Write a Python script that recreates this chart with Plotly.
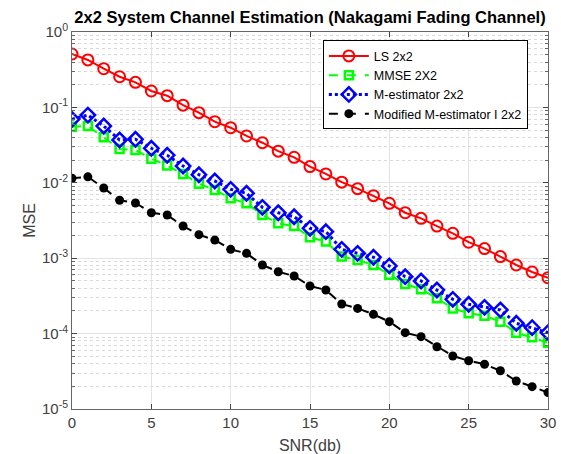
import plotly.graph_objects as go

snr = list(range(0, 31))

ls_2x2 = [0.511, 0.426, 0.326, 0.255, 0.215, 0.165, 0.143, 0.107, 0.0851, 0.0646,
          0.0538, 0.0418, 0.034, 0.0263, 0.0218, 0.0164, 0.0131, 0.0102, 0.00836, 0.00675,
          0.00535, 0.00401, 0.00338, 0.00267, 0.00214, 0.00163, 0.00134, 0.00105, 0.000813,
          0.000656, 0.000551]
mmse_2x2 = [0.0555, 0.0566, 0.0401, 0.0281, 0.0272, 0.0209, 0.0169, 0.0131, 0.00975, 0.00804,
            0.00622, 0.00535, 0.00374, 0.0029, 0.00267, 0.00189, 0.00166, 0.00105, 0.000946,
            0.000813, 0.000605, 0.000455, 0.000387, 0.000294, 0.000216, 0.000186, 0.000173,
            0.000144, 0.000103, 0.0000893, 0.0000759]
mest_2x2 = [0.0695, 0.079, 0.0566, 0.037, 0.0378, 0.0287, 0.0232, 0.0167, 0.0128, 0.01057,
            0.0082, 0.00726, 0.00473, 0.00401, 0.00355, 0.00249, 0.00225, 0.00131, 0.00116,
            0.00103, 0.00079, 0.000569, 0.000499, 0.000379, 0.000285, 0.000245, 0.000223,
            0.000206, 0.000137, 0.00012, 0.000103]
mod_mest_2x2 = [0.01148, 0.012, 0.00853, 0.00586, 0.0054, 0.00401, 0.00374, 0.00267, 0.00205,
                0.00174, 0.00131, 0.00116, 0.000813, 0.000662, 0.00058, 0.000428, 0.000379,
                0.000247, 0.000216, 0.00018, 0.000144, 0.000103, 0.000091, 0.000067, 0.0000505,
                0.0000437, 0.0000392, 0.0000322, 0.0000235, 0.0000198, 0.0000165]

series_names = ["LS 2x2", "MMSE 2X2", "M-estimator 2x2", "Modified M-estimator I 2x2"]
y_tick_vals = [1e-5, 1e-4, 1e-3, 1e-2, 1e-1, 1]
y_tick_text = ["10<sup>-5</sup>", "10<sup>-4</sup>", "10<sup>-3</sup>", "10<sup>-2</sup>",
               "10<sup>-1</sup>", "10<sup>0</sup>"]
x_tick_vals = [0, 5, 10, 15, 20, 25, 30]

minor_vals = [k * 10.0 ** e for e in range(-5, 0) for k in range(2, 10)]

fig = go.Figure()
fig.add_trace(go.Scatter(
    x=snr, y=ls_2x2, name=series_names[0], mode="lines+markers",
    line=dict(color="#ff0000", width=2),
    marker=dict(symbol="circle-open", size=11, color="#ff0000", line=dict(width=2, color="#ff0000"))))
fig.add_trace(go.Scatter(
    x=snr, y=mmse_2x2, name=series_names[1], mode="lines+markers",
    line=dict(color="#00ff00", width=2, dash="dash"),
    marker=dict(symbol="square-open", size=8, color="#00ff00", line=dict(width=2.5, color="#00ff00"))))
fig.add_trace(go.Scatter(
    x=snr, y=mest_2x2, name=series_names[2], mode="lines+markers",
    line=dict(color="#0000ff", width=3, dash="dot"),
    marker=dict(symbol="diamond-open", size=11, color="#0000ff", line=dict(width=2.5, color="#0000ff"))))
fig.add_trace(go.Scatter(
    x=snr, y=mod_mest_2x2, name=series_names[3], mode="lines+markers",
    line=dict(color="#000000", width=2, dash="dash"),
    marker=dict(symbol="circle", size=9, color="#000000")))

axis_font = dict(family="Liberation Sans, Arial, sans-serif", size=15, color="#404040")

fig.update_layout(
    width=561, height=454,
    margin=dict(l=72, r=13, t=32, b=45),
    paper_bgcolor="white", plot_bgcolor="white",
    font=dict(family="Liberation Sans, Arial, sans-serif", size=13, color="#262626"),
    title=dict(text="<b>2x2 System Channel Estimation (Nakagami Fading Channel)</b>",
               x=(72 + 548) / 2 / 561, xanchor="center", y=1 - 17 / 454, yanchor="middle",
               yref="container", font=dict(size=16.5, color="#000000")),
    showlegend=True,
    legend=dict(x=0.527, y=0.978, xanchor="left", yanchor="top",
                bgcolor="white", bordercolor="#000000", borderwidth=1,
                font=dict(size=12.5, color="#000000"), itemwidth=40,
                tracegroupgap=0),
)
fig.update_xaxes(
    range=[0, 30], tickvals=x_tick_vals, ticks="inside", ticklen=5, automargin=False,
    tickfont=axis_font, showline=True, linecolor="#666666", linewidth=1, mirror="ticks",
    showgrid=True, gridcolor="#e3e3e3", gridwidth=1, zeroline=False,
    title=dict(text="SNR(db)", font=dict(size=16, color="#404040"), standoff=9),
)
fig.update_yaxes(
    type="log", range=[-5, 0], tickvals=y_tick_vals, ticktext=y_tick_text,
    ticks="inside", ticklen=5, tickfont=axis_font, automargin=False,
    showline=True, linecolor="#666666", linewidth=1, mirror="ticks",
    showgrid=True, gridcolor="#e3e3e3", gridwidth=1, zeroline=False,
    minor=dict(tickvals=minor_vals, ticks="inside", ticklen=3, tickcolor="#666666",
               showgrid=True, gridcolor="#d9d9d9", griddash="dot", gridwidth=1),
    title=dict(text="MSE", font=dict(size=16, color="#404040"), standoff=2),
)

fig.write_html("out.html")
